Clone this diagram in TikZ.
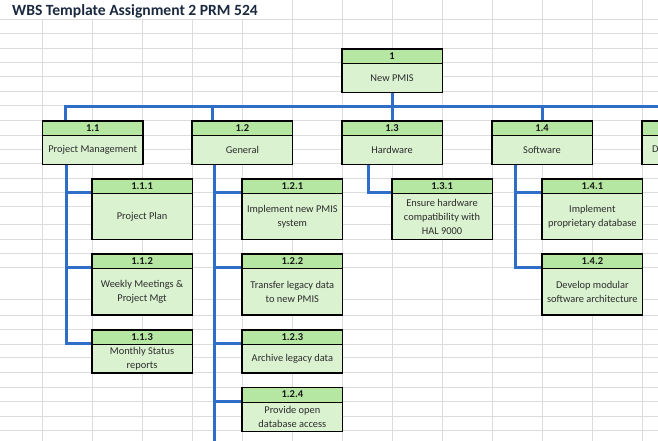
\documentclass[tikz,border=0pt]{standalone}
\usepackage{fontspec}
\setmainfont{Carlito}
\usetikzlibrary{calc}
\definecolor{hdrc}{HTML}{B5E6A2}
\definecolor{bdyc}{HTML}{DAF2D0}
\definecolor{connc}{HTML}{2F6EC8}
\definecolor{gridc}{HTML}{DCDCDC}
\definecolor{ttlc}{HTML}{1B2A40}
\definecolor{txtc}{HTML}{2C2C2C}
\pgfdeclarelayer{bg}
\pgfsetlayers{bg,main}
\newcommand\wbsnode[6]{%
  \node[wbsbox, minimum height=#4pt] (#1) at (#2,#3) {};
  \node[numtxt] (#1n) at ([yshift=-7.4pt]#1.north) {#5};
  \node[bodytxt] (#1t) at ($([yshift=-14.5pt]#1.north)!0.5!(#1.south)$) {#6};
  \coordinate (#1w) at ([yshift=-14.3pt]#1.north west);
}
\begin{document}
\begin{tikzpicture}[x=1pt,y=-1pt,
  wbsbox/.style={draw=black, line width=1.6pt, fill=bdyc, minimum width=100.5pt, inner sep=0pt, anchor=north west,
    path picture={\fill[hdrc] (path picture bounding box.north west) rectangle ([yshift=-14.5pt]path picture bounding box.north east);
      \draw[line width=1pt] ([yshift=-14.5pt]path picture bounding box.north west) -- ([yshift=-14.5pt]path picture bounding box.north east);}},
  numtxt/.style={font=\fontsize{10.5}{12}\selectfont\bfseries, text=black!90, inner sep=0pt},
  bodytxt/.style={font=\fontsize{10.4}{14}\selectfont, text=txtc, align=center, inner sep=0pt},
  conn/.style={draw=connc, line width=3pt},
  gridline/.style={draw=gridc, line width=1pt}]
\useasboundingbox (0,0) rectangle (658,441);

% title
\node[anchor=base west, font=\fontsize{15.6}{18}\selectfont\bfseries, text=ttlc, inner sep=0pt] (title) at (12,15.5) {WBS Template Assignment 2 PRM 524};

% boxes
\wbsnode{b1}{341}{48.3}{43.5}{1}{New PMIS}
\wbsnode{b11}{41.7}{120.3}{43.2}{1.1}{Project Management}
\wbsnode{b12}{191.3}{120.3}{43.2}{1.2}{General}
\wbsnode{b13}{341}{120.3}{43.2}{1.3}{Hardware}
\wbsnode{b14}{491}{120.3}{43.2}{1.4}{Software}
\node[wbsbox, minimum height=43.2pt] (b15) at (641,120.3) {};
\node[bodytxt, anchor=west] (b15t) at (652,149) {D};

\wbsnode{b111}{91}{178.3}{60.3}{1.1.1}{Project Plan}
\wbsnode{b112}{91}{253.3}{60.7}{1.1.2}{Weekly Meetings \&\\Project Mgt}
\wbsnode{b113}{91}{329.3}{43}{1.1.3}{Monthly Status\\reports}

\wbsnode{b121}{241.3}{178.3}{60.3}{1.2.1}{Implement new PMIS\\system}
\wbsnode{b122}{241.3}{253.3}{60.7}{1.2.2}{Transfer legacy data\\to new PMIS}
\wbsnode{b123}{241.3}{329.3}{43}{1.2.3}{Archive legacy data}
\wbsnode{b124}{241.3}{386.7}{44}{1.2.4}{Provide open\\database access}

\wbsnode{b131}{391}{178.3}{60.5}{1.3.1}{Ensure hardware\\compatibility with\\HAL 9000}

\wbsnode{b141}{541.3}{178.3}{60.5}{1.4.1}{Implement\\proprietary database}
\wbsnode{b142}{541.3}{253.3}{60.7}{1.4.2}{Develop modular\\software architecture}

\begin{pgfonlayer}{bg}
  \fill[white] (0,0) rectangle (658,441);
  % spreadsheet grid
  \foreach \x in {42,92,142,192,242} \draw[gridline] (\x,19.3) -- (\x,441);
  \foreach \x in {292,342,...,642} \draw[gridline] (\x,0) -- (\x,441);
  \foreach \y in {19.3,33.3,48.3,62.7,76.7,91.7,106,120.7,135,149.3,163.3,178.3,192.7,206.7,224,239,253.3,267.7,299.3,315,329.3,344,357.3,372.7,387.7,401.7,416.7,430.7}
    \draw[gridline] (0,\y) -- (658,\y);

  % connectors
  \coordinate (bar) at (0,106.7);
  \coordinate (bottom) at (0,445);
  \draw[conn] (b1.south) -- (b13.north);
  \draw[conn] ([xshift=23.3pt]b11.north west) |- (bar -| b15.north) -- (b15.north);
  \coordinate (c12) at ([xshift=20.7pt]b12.north west);
  \draw[conn] (c12) -- (c12 |- bar);
  \draw[conn] (b14.north) -- (b14.north |- bar);

  \coordinate (t11) at ([xshift=25pt]b11.south west);
  \draw[conn] (t11) |- (b113w);
  \draw[conn] (t11 |- b111w) -- (b111w);
  \draw[conn] (t11 |- b112w) -- (b112w);

  \coordinate (t12) at ([xshift=23pt]b12.south west);
  \draw[conn] (t12) -- (t12 |- bottom);
  \draw[conn] (t12 |- b121w) -- (b121w);
  \draw[conn] (t12 |- b122w) -- (b122w);
  \draw[conn] (t12 |- b123w) -- (b123w);
  \draw[conn] (t12 |- b124w) -- (b124w);

  \coordinate (t13) at ([xshift=27.3pt]b13.south west);
  \draw[conn] (t13) |- (b131w);

  \coordinate (t14) at ([xshift=24.7pt]b14.south west);
  \draw[conn] (t14) |- (b142w);
  \draw[conn] (t14 |- b141w) -- (b141w);
\end{pgfonlayer}
\end{tikzpicture}
\end{document}
